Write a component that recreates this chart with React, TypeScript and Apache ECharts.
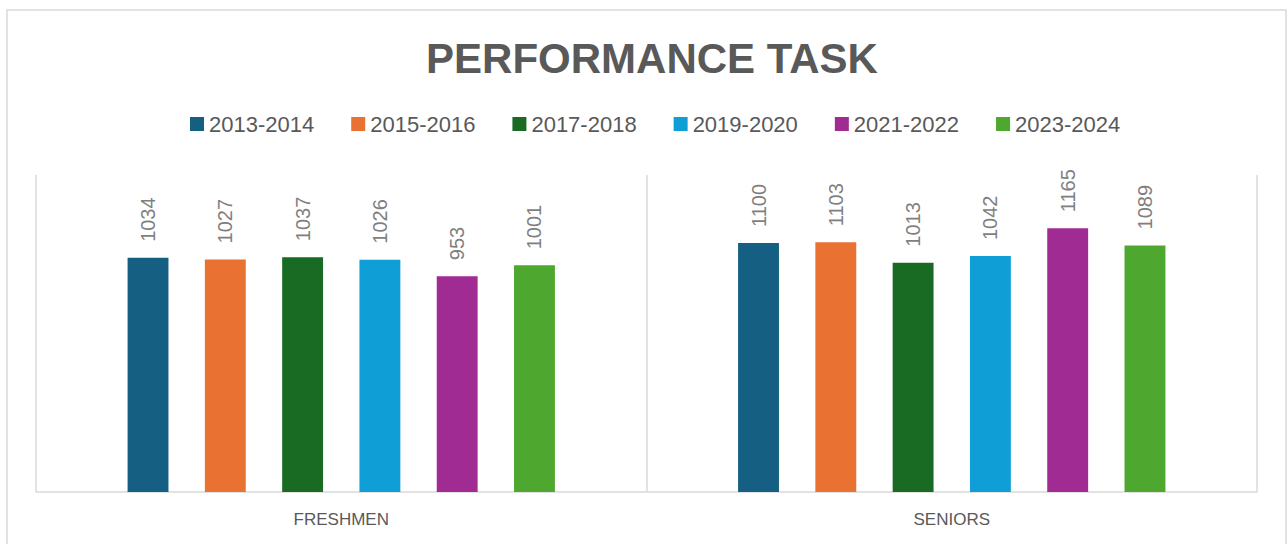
import React, { useEffect, useRef } from "react";
import * as echarts from "echarts";

const categories = ["FRESHMEN", "SENIORS"];
const seriesNames = ["2013-2014", "2015-2016", "2017-2018", "2019-2020", "2021-2022", "2023-2024"];
const s2013 = [1034, 1100];
const s2015 = [1027, 1103];
const s2017 = [1037, 1013];
const s2019 = [1026, 1042];
const s2021 = [953, 1165];
const s2023 = [1001, 1089];
const colors = ["#156082", "#E97132", "#196B24", "#0F9ED5", "#A02B93", "#4EA72E"];

const FONT = "'Liberation Sans', Arial, sans-serif";

export default function App() {
  const ref = useRef<HTMLDivElement>(null);
  useEffect(() => {
    if (!ref.current) return;
    const chart = echarts.init(ref.current, null, { renderer: "svg" });
    const values = [s2013, s2015, s2017, s2019, s2021, s2023];
    chart.setOption({
      animation: false,
      color: colors,
      textStyle: { fontFamily: FONT },
      title: {
        text: "PERFORMANCE TASK",
        left: 647,
        top: 32,
        textAlign: "center",
        textStyle: { fontSize: 42, fontWeight: "bold", color: "#595959", fontFamily: FONT },
      },
      legend: {
        top: 108,
        left: 185,
        itemWidth: 14,
        itemHeight: 14,
        itemGap: 37,
        icon: "rect",
        textStyle: { fontSize: 22, color: "#595959", fontFamily: FONT },
        data: seriesNames,
      },
      graphic: [
        {
          type: "rect",
          shape: { x: 7, y: 10, width: 1279, height: 600 },
          style: { fill: "none", stroke: "#d9d9d9", lineWidth: 1.5 },
          silent: true,
        },
      ],
      grid: { left: 36, right: 30, top: 175, bottom: 52 },
      xAxis: {
        type: "category",
        data: categories,
        axisTick: { show: false },
        axisLine: { lineStyle: { color: "#d9d9d9", width: 1.5 } },
        splitLine: { show: true, lineStyle: { color: "#d9d9d9", width: 1.5 } },
        axisLabel: { color: "#595959", fontSize: 17, margin: 19, fontFamily: FONT },
      },
      yAxis: {
        type: "value",
        min: 0,
        max: 1400,
        show: false,
        splitLine: { show: false },
      },
      series: seriesNames.map((name, i) => ({
        name,
        type: "bar",
        data: values[i],
        barCategoryGap: "30%",
        barGap: "89%",
        label: {
          show: true,
          position: "top",
          rotate: 90,
          align: "left",
          verticalAlign: "middle",
          distance: 16,
          color: "#7f7f7f",
          fontSize: 20,
          fontFamily: FONT,
        },
      })),
    });
    return () => chart.dispose();
  }, []);
  return (
    <div
      ref={ref}
      style={{ position: "absolute", left: 0, top: 0, width: 1287, height: 544, background: "#fff" }}
    />
  );
}
